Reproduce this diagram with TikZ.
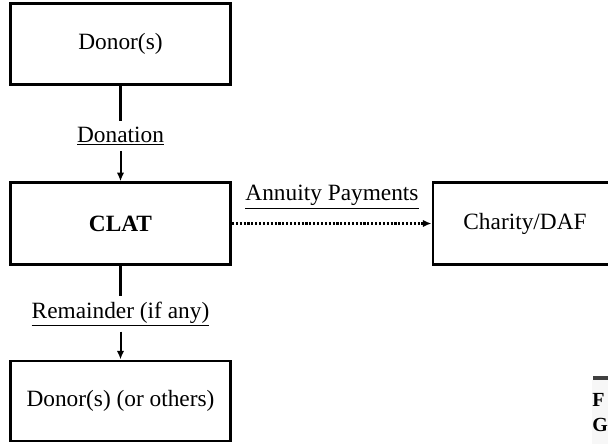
\documentclass[tikz,border=0pt]{standalone}
\usepackage{fontspec}
\setmainfont{Liberation Serif}
\usetikzlibrary{arrows.meta}

\tikzset{
  caja/.style={draw, line width=2.2pt, minimum width=165pt, minimum height=61pt,
    inner sep=0pt, font=\fontsize{17.5}{20}\selectfont},
  etiqueta/.style={inner sep=4pt, font=\fontsize{17.5}{20}\selectfont},
  tramo/.style={line width=2.2pt},
  flecha/.style={line width=1.5pt, -{Latex[length=6.5pt,width=5.5pt]}},
  punteada/.style={line width=1.6pt, dash pattern=on 1.6pt off 1.3pt, -{Latex[length=6.5pt,width=5.5pt]}}
}

\begin{document}
\begin{tikzpicture}[x=0.75pt,y=-0.75pt]

\useasboundingbox (0,0) rectangle (608,444);
\clip (0,0) rectangle (608,444);

% Cajas
\node[caja] (donante) at (120.5,44) {Donor(s)};
\node[caja] (clat) at (120.5,223.5) {\textbf{CLAT}};
\node[caja, minimum width=138pt] (caridad) at (525,223.5) {Charity/DAF};
\node[caja, minimum height=60pt] (resto) at (120.5,401) {Donor(s) (or others)};

% Etiquetas
\node[etiqueta] (donacion) at (120.5,136) {\underline{Donation}};
\node[etiqueta] (anualidad) at (332,197) {\underline{Annuity Payments}};
\node[etiqueta] (remanente) at (120.5,314) {\underline{Remainder (if any)}};

% Conectores
\draw[tramo] (donante.south) -- (donacion.north);
\draw[flecha] (donacion.south) -- (clat.north);
\draw[punteada] (clat.east) -- (caridad.west);
\draw[tramo] (clat.south) -- (remanente.north);
\draw[flecha] (remanente.south) -- (resto.north);

% Borde de la pagina siguiente
\fill[gray!6] (592,380) rectangle (610,444);
\fill[black!75] (593,376) rectangle (610,379.5);
\node[anchor=west, inner sep=0pt, font=\fontsize{15}{17}\selectfont\bfseries] (letraf) at (592,400) {F};
\node[anchor=west, inner sep=0pt, font=\fontsize{15}{17}\selectfont\bfseries] (letrag) at (592,425) {G};

\end{tikzpicture}
\end{document}
